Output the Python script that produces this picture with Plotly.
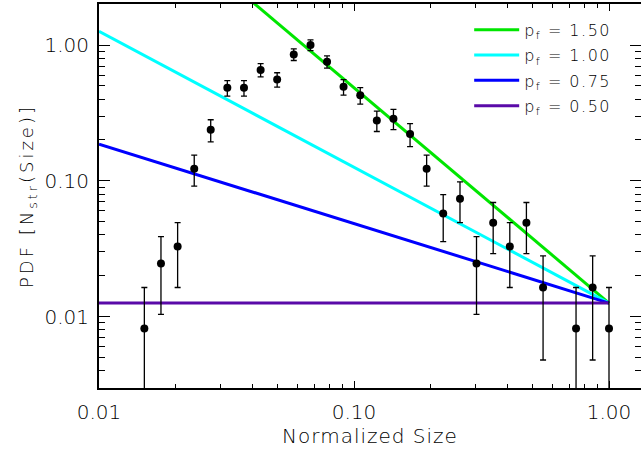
import numpy as np
import plotly.graph_objects as go

# ---- data ----
size_norm = [0.01506, 0.01750, 0.02034, 0.02363, 0.02742, 0.03186, 0.03703,
             0.04304, 0.04996, 0.05805, 0.06752, 0.07839, 0.09099, 0.1058,
             0.1229, 0.1428, 0.1659, 0.1927, 0.2238, 0.2604, 0.3023, 0.3514,
             0.4083, 0.4744, 0.5514, 0.7426, 0.8628, 1.0000]
pdf_vals = [0.0082, 0.0246, 0.0328, 0.1230, 0.2377, 0.4836, 0.4836, 0.6557,
            0.5574, 0.8525, 1.0000, 0.7541, 0.4918, 0.4262, 0.2787, 0.2869,
            0.2213, 0.1230, 0.0574, 0.0738, 0.0246, 0.0492, 0.0328, 0.0492,
            0.0164, 0.0082, 0.0164, 0.0082]
pdf_err = [0.0082, 0.0142, 0.0164, 0.0317, 0.0441, 0.0630, 0.0630, 0.0733,
           0.0676, 0.0836, 0.0905, 0.0786, 0.0635, 0.0591, 0.0478, 0.0485,
           0.0426, 0.0317, 0.0217, 0.0246, 0.0142, 0.0201, 0.0164, 0.0201,
           0.0116, 0.0082, 0.0116, 0.0082]

# model lines: PDF = anchor * size^(-log2(2 p_f)), pivoting at size = 1
p_f = [1.50, 1.00, 0.75, 0.50]
line_colors = ["#00e600", "#00ffff", "#0000ff", "#5a0aa8"]
anchor_pdf = 0.0126
line_x = [0.01, 1.0]

x_tickvals = [0.01, 0.1, 1.0]
x_ticktext = ["0.01", "0.10", "1.00"]
y_tickvals = [0.01, 0.1, 1.0]
y_ticktext = ["0.01", "0.10", "1.00"]
x_minor = [0.02, 0.03, 0.04, 0.05, 0.06, 0.07, 0.08, 0.09,
           0.2, 0.3, 0.4, 0.5, 0.6, 0.7, 0.8, 0.9]
y_minor = [0.003, 0.004, 0.005, 0.006, 0.007, 0.008, 0.009,
           0.02, 0.03, 0.04, 0.05, 0.06, 0.07, 0.08, 0.09,
           0.2, 0.3, 0.4, 0.5, 0.6, 0.7, 0.8, 0.9, 2.0]

FONT = "DejaVu Sans"

fig = go.Figure()
for i, (p, c) in enumerate(zip(p_f, line_colors)):
    s = np.log2(2 * p)
    ys = [anchor_pdf * xv ** (-s) for xv in line_x]
    fig.add_trace(go.Scatter(
        x=line_x, y=ys, mode="lines",
        line=dict(color=c, width=3),
        legendgroup="g%d" % i,
        name='<span style="letter-spacing:1.5px">p<sub>f</sub> = %.2f</span>' % p,
    ))

fig.add_trace(go.Scatter(
    x=size_norm, y=pdf_vals, mode="markers",
    marker=dict(color="black", size=8),
    error_y=dict(type="data", array=pdf_err, symmetric=True,
                 color="black", thickness=1.3, width=3),
    showlegend=False,
))

axis_common = dict(
    type="log", showgrid=False, zeroline=False,
    showline=True, linecolor="black", linewidth=2, mirror="ticks",
    tickcolor="black", tickwidth=1.3, ticks="inside",
    tickfont=dict(family=FONT, size=20, color="black", weight=300),
)

fig.update_xaxes(
    **axis_common,
    range=[-2, 0.1255],
    tickvals=x_tickvals, ticktext=x_ticktext, ticklen=7,
    ticklabelstandoff=5,
    minor=dict(tickvals=x_minor, ticks="inside", ticklen=4,
               tickcolor="black", tickwidth=1.3),
    title=dict(text='<span style="letter-spacing:1px">Normalized Size</span>',
               font=dict(family=FONT, size=20, color="black", weight=300),
               standoff=6),
)
fig.update_yaxes(
    **axis_common,
    range=[-2.5248, 0.3018],
    tickvals=y_tickvals, ticktext=y_ticktext, ticklen=11,
    ticklabelstandoff=4,
    minor=dict(tickvals=y_minor, ticks="inside", ticklen=6,
               tickcolor="black", tickwidth=1.3),
    title=dict(text='<span style="letter-spacing:3px">PDF [N<sub>str</sub>(Size)]</span>',
               font=dict(family=FONT, size=18, color="black", weight=300),
               standoff=6),
)

fig.update_layout(
    width=641, height=454,
    margin=dict(l=99, r=0, t=4, b=66, autoexpand=False),
    paper_bgcolor="white", plot_bgcolor="white",
    font=dict(family=FONT, color="black"),
    legend=dict(x=0.683, y=0.977, xanchor="left", yanchor="top",
                bgcolor="rgba(0,0,0,0)", borderwidth=0,
                itemwidth=45,
                font=dict(family=FONT, size=16, color="black", weight=300),
                tracegroupgap=1.5),
    showlegend=True,
)

fig.write_html("out.html", config={"displayModeBar": False},
               post_script="document.body.style.margin='0px';")
